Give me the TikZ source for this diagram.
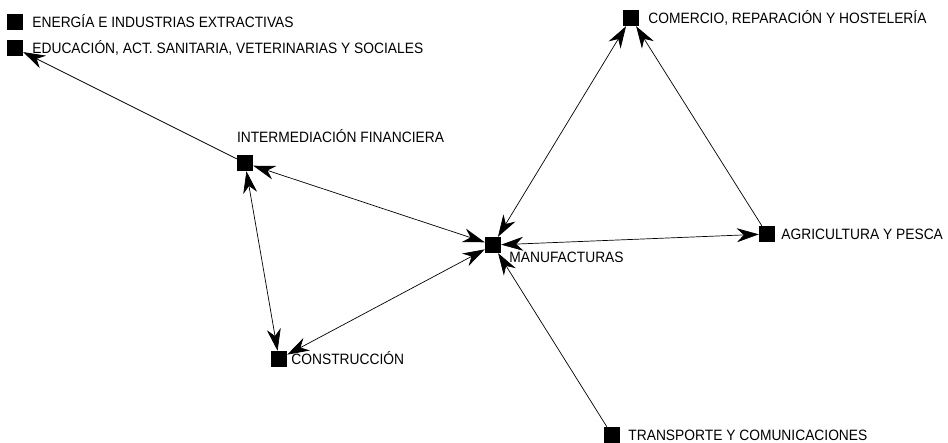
\documentclass[tikz,border=0pt]{standalone}
\usepackage{fontspec}
\setmainfont[FakeStretch=0.92]{Liberation Sans}
\usetikzlibrary{arrows.meta}

\begin{document}
\begin{tikzpicture}[x=1pt,y=-1pt,
  sector/.style={fill=black,minimum size=16pt,inner sep=0pt},
  lbl/.style={font=\fontsize{15}{17}\selectfont,inner sep=0pt,text height=10.5pt,text depth=0pt},
  link/.style={line width=.7pt,-{Stealth[length=22pt,width=14pt,inset=7pt]}},
  both/.style={line width=.7pt,{Stealth[length=22pt,width=14pt,inset=7pt]}-{Stealth[length=22pt,width=14pt,inset=7pt]}}]
  \useasboundingbox (0,0) rectangle (948,442);
  \node[sector,label={[lbl,label distance=9pt]right:ENERGÍA E INDUSTRIAS EXTRACTIVAS}] (ener) at (15,22) {};
  \node[sector,label={[lbl,label distance=9pt]right:EDUCACIÓN, ACT. SANITARIA, VETERINARIAS Y SOCIALES}] (educ) at (15,48) {};
  \node[sector,label={[lbl,anchor=south west,yshift=12pt]north west:INTERMEDIACIÓN FINANCIERA}] (inter) at (245,163) {};
  \node[sector,label={[lbl,anchor=north west,xshift=8pt,yshift=1pt]south east:MANUFACTURAS}] (manuf) at (493,245) {};
  \node[sector,label={[lbl,label distance=9pt]right:COMERCIO, REPARACIÓN Y HOSTELERÍA}] (comer) at (631,18) {};
  \node[sector,label={[lbl,label distance=6pt]right:AGRICULTURA Y PESCA}] (agri) at (767,234) {};
  \node[sector,label={[lbl,label distance=4pt]right:CONSTRUCCIÓN}] (constr) at (279,359) {};
  \node[sector,label={[lbl,label distance=8pt]right:TRANSPORTE Y COMUNICACIONES}] (transp) at (612,435) {};
  % relaciones entre sectores
  \draw[link] (inter) -- (educ);
  \draw[both] (inter) -- (manuf);
  \draw[both] (inter) -- (constr);
  \draw[both] (constr) -- (manuf);
  \draw[both] (manuf) -- (comer);
  \draw[link] (agri) -- (comer);
  \draw[both] (manuf) -- (agri);
  \draw[link] (transp) -- (manuf);
\end{tikzpicture}
\end{document}
